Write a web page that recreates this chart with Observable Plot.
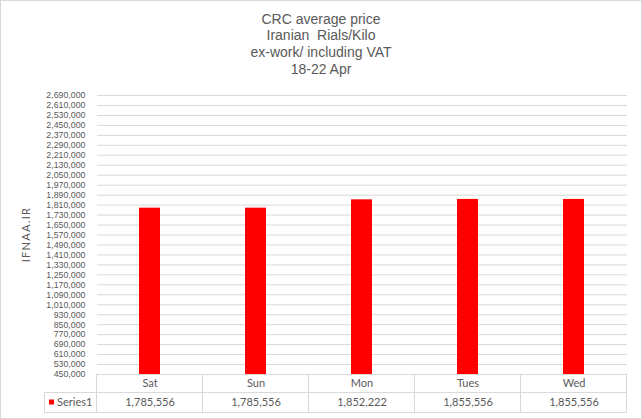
<!DOCTYPE html>
<html>
<head>
<meta charset="utf-8">
<script src="https://cdn.jsdelivr.net/npm/d3@7"></script>
<script src="https://cdn.jsdelivr.net/npm/@observablehq/plot@0.6"></script>
<style>
  html, body { margin: 0; padding: 0; background: #fff; }
  #wrap { position: relative; width: 642px; height: 419px; overflow: hidden; background: #fff; }
  #title { height: 85px; box-sizing: border-box; padding-top: 10.5px; text-align: center;
           font-family: "Liberation Sans", Arial, sans-serif; font-size: 14px; line-height: 16.7px; color: #595959; }
  #border { position: absolute; left: 0; top: 0; width: 642px; height: 419px; box-sizing: border-box;
            border: 1px solid #d9d9d9; pointer-events: none; }
  #chart svg { display: block; }
</style>
</head>
<body>
<div id="wrap">
  <div id="title">CRC average price<br>Iranian&nbsp; Rials/Kilo<br>ex-work/ including VAT<br>18-22 Apr</div>
  <div id="chart"></div>
  <div id="border"></div>
</div>
<script>
const days = ["Sat", "Sun", "Mon", "Tues", "Wed"];
const prices = [1785556, 1785556, 1852222, 1855556, 1855556];
const seriesName = "Series1";
const yAxisLabel = "IFNAA.IR";
const yTicks = [450000, 530000, 610000, 690000, 770000, 850000, 930000, 1010000, 1090000, 1170000,
  1250000, 1330000, 1410000, 1490000, 1570000, 1650000, 1730000, 1810000, 1890000, 1970000,
  2050000, 2130000, 2210000, 2290000, 2370000, 2450000, 2530000, 2610000, 2690000];
const yMin = yTicks[0], yMax = yTicks[yTicks.length - 1];

const data = days.map((d, i) => ({day: d, price: prices[i]}));
const fmt = d3.format(",");
const textColor = "#595959";
const lineColor = "#d9d9d9";
const fontFam = "Lato, 'Liberation Sans', sans-serif";

const plot = Plot.plot({
  width: 642,
  height: 334,
  marginTop: 10,
  marginBottom: 45,
  marginLeft: 97,
  marginRight: 15,
  style: {fontFamily: fontFam, fontSize: "11px", color: textColor, background: "transparent", overflow: "visible"},
  x: {domain: days, paddingInner: 0.8, paddingOuter: 0.4, axis: null},
  y: {axis: null, domain: [yMin, yMax]},
  marks: [
    Plot.ruleY(yTicks, {stroke: lineColor, strokeOpacity: 1}),
    Plot.axisY(yTicks, {tickFormat: fmt, tickSize: 0, tickPadding: 12, label: null,
      fontFamily: "'Liberation Sans', sans-serif", fontSize: 8.8, letterSpacing: "0.95px", fill: textColor}),
    Plot.barY(data, {x: "day", y1: () => yMin, y2: "price", fill: "#ff0000"}),
    Plot.text(data, {x: "day", text: "day", frameAnchor: "bottom", lineAnchor: "middle", dy: 9, fill: textColor}),
    Plot.text(data, {x: "day", text: d => fmt(d.price), frameAnchor: "bottom", lineAnchor: "middle", dy: 28, fill: textColor})
  ]
});
document.getElementById("chart").appendChild(plot);

// data table grid and axis title placed from the plot's own scales
const sx = plot.scale("x");
const sy = plot.scale("y");
const step = sx.step, bw = sx.bandwidth;
const lefts = days.map(d => sx.apply(d) - (step - bw) / 2);
const right = lefts[lefts.length - 1] + step;
const yb = sy.apply(yMin);
const yt = sy.apply(yMax);
const yr = yb + 18;
const ye = yb + 38;
const keyLeft = 44;
const svg = d3.select(plot);
const g = svg.append("g").attr("stroke", lineColor).attr("stroke-width", 1).attr("shape-rendering", "crispEdges");
[...lefts, right].forEach(x => g.append("line").attr("x1", x).attr("x2", x).attr("y1", yb).attr("y2", ye));
g.append("line").attr("x1", keyLeft).attr("x2", right).attr("y1", yr).attr("y2", yr);
g.append("line").attr("x1", keyLeft).attr("x2", right).attr("y1", ye).attr("y2", ye);
g.append("line").attr("x1", keyLeft).attr("x2", keyLeft).attr("y1", yr).attr("y2", ye);
svg.append("rect").attr("x", keyLeft + 5).attr("y", (yr + ye) / 2 - 2.5).attr("width", 5).attr("height", 5).attr("fill", "#ff0000");
svg.append("text").attr("x", keyLeft + 13).attr("y", (yr + ye) / 2).attr("dy", "0.35em")
  .attr("text-anchor", "start").attr("fill", textColor).attr("font-family", fontFam).attr("font-size", 11).text(seriesName);
svg.append("text").attr("transform", `translate(26,${(yb + yt) / 2}) rotate(-90)`).attr("dy", "0.35em")
  .attr("text-anchor", "middle").attr("fill", textColor).attr("font-family", fontFam).attr("font-size", 11)
  .attr("letter-spacing", "1.3px").text(yAxisLabel);
</script>
</body>
</html>
